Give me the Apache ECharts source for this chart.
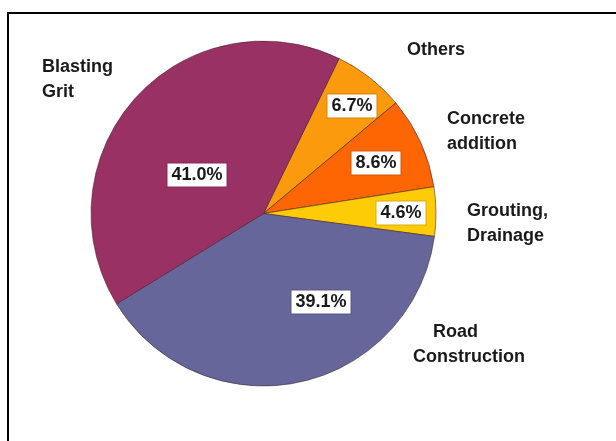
<!DOCTYPE html>
<html>
<head>
<meta charset="utf-8">
<script src="https://cdn.jsdelivr.net/npm/echarts@6/dist/echarts.min.js"></script>
<style>
  html, body { margin: 0; padding: 0; background: #fff; }
  #chart { width: 616px; height: 441px; }
</style>
</head>
<body>
<div id="chart"></div>
<script>
// Uses of the material, share of total (%), in clockwise order
const categories = ['Others', 'Concrete\naddition', 'Grouting,\nDrainage', 'Road\nConstruction', 'Blasting\nGrit'];
const shares = [6.7, 8.6, 4.6, 39.1, 41.0];
const colors = ['#fb9a0c', '#fd6603', '#fecc07', '#66669a', '#9a3164'];

// Label anchor points (px) for the value boxes and the category names
const valueLabelPos = [[352, 106], [376, 163], [401, 213], [321, 302], [197, 175]];
const nameLabelPos = [[407, 50], [447, 132], [467, 224], [413, 345], [42, 80]];

const font = '"Liberation Sans", Arial, sans-serif';
const pieData = categories.map((name, i) => ({
  name: name,
  value: shares[i],
  itemStyle: { color: colors[i] }
}));

const chart = echarts.init(document.getElementById('chart'), null, { renderer: 'canvas' });

chart.setOption({
  animation: false,
  backgroundColor: '#ffffff',
  graphic: [{
    type: 'rect',
    shape: { x: 8, y: 13, width: 700, height: 600 },
    style: { fill: 'none', stroke: '#000', lineWidth: 2 },
    silent: true,
    z: 100
  }],
  series: [
    {
      // slices with their value boxes
      type: 'pie',
      center: [263.5, 213.5],
      radius: [0, 172.5],
      startAngle: 64,
      clockwise: true,
      avoidLabelOverlap: false,
      itemStyle: { borderColor: 'rgba(60,30,40,0.55)', borderWidth: 1 },
      emphasis: { disabled: true },
      label: {
        show: true,
        position: 'inside',
        formatter: p => p.value.toFixed(1) + '%',
        fontFamily: font,
        fontWeight: 'bold',
        fontSize: 18,
        lineHeight: 18,
        color: '#1a1a1a',
        backgroundColor: '#ffffff',
        borderColor: 'rgba(0,0,0,0.15)',
        borderWidth: 1,
        padding: [3, 4, 2, 4]
      },
      labelLayout: p => ({
        x: valueLabelPos[p.dataIndex][0],
        y: valueLabelPos[p.dataIndex][1],
        align: 'center',
        verticalAlign: 'middle'
      }),
      data: pieData
    },
    {
      // same slices, invisible, carrying the category names
      type: 'pie',
      center: [263.5, 213.5],
      radius: [0, 172.5],
      startAngle: 64,
      clockwise: true,
      silent: true,
      avoidLabelOverlap: false,
      itemStyle: { color: 'rgba(0,0,0,0)', borderWidth: 0 },
      labelLine: { show: false },
      label: {
        show: true,
        position: 'outside',
        formatter: p => p.dataIndex === 3
          ? '{ind|Road}\nConstruction'
          : p.name,
        fontFamily: font,
        fontWeight: 'bold',
        fontSize: 18,
        lineHeight: 25,
        color: '#1a1a1a',
        align: 'left',
        rich: {
          ind: {
            fontFamily: font,
            fontWeight: 'bold',
            fontSize: 18,
            lineHeight: 25,
            color: '#1a1a1a',
            padding: [0, 0, 0, 20]
          }
        }
      },
      labelLayout: p => ({
        x: nameLabelPos[p.dataIndex][0],
        y: nameLabelPos[p.dataIndex][1],
        align: 'left',
        verticalAlign: 'middle'
      }),
      data: pieData.map(d => ({ name: d.name, value: d.value }))
    }
  ]
});
</script>
</body>
</html>
